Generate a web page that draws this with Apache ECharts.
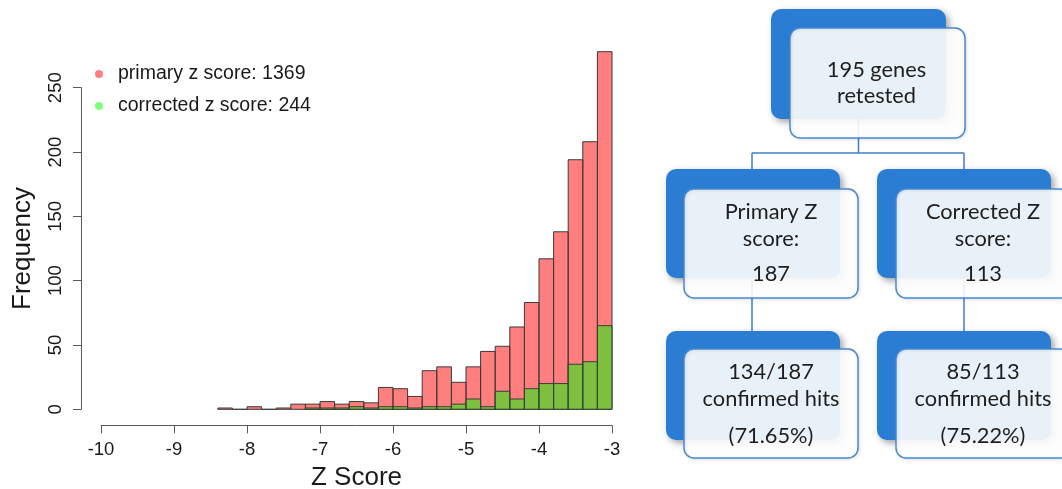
<!DOCTYPE html>
<html>
<head>
<meta charset="utf-8">
<script src="https://cdn.jsdelivr.net/npm/echarts@6/dist/echarts.min.js"></script>
<style>
  html, body { margin: 0; padding: 0; background: #ffffff; }
  #chart { width: 1062px; height: 489px; }
</style>
</head>
<body>
<div id="chart"></div>
<script>
// Histogram bins (width 0.2) of Z scores
const binEdges = [-8.4, -8.2, -8.0, -7.8, -7.6, -7.4, -7.2, -7.0, -6.8, -6.6, -6.4, -6.2, -6.0,
                  -5.8, -5.6, -5.4, -5.2, -5.0, -4.8, -4.6, -4.4, -4.2, -4.0, -3.8, -3.6, -3.4, -3.2, -3.0];
// Counts per bin, primary z score (total 1369)
const primaryCounts = [1, 0, 2, 0, 1, 4, 4, 6, 4, 6, 5, 17, 16, 10, 30, 33, 21, 33, 45, 49, 64, 83, 117, 138, 194, 208, 278];
// Counts per bin, corrected z score (total 244)
const correctedCounts = [0, 0, 0, 0, 0, 0, 1, 1, 1, 2, 1, 2, 2, 1, 2, 2, 4, 8, 2, 14, 8, 16, 20, 20, 35, 37, 65];

const seriesNames = ['primary z score: 1369', 'corrected z score: 244'];
const xTicks = { min: -10, max: -3, step: 1 };
const yTicks = { min: 0, max: 250, step: 50 };

// Flow diagram text
const topLines = ['195 genes', 'retested'];
const primaryLines = ['Primary Z', 'score:', '187'];
const correctedLines = ['Corrected Z', 'score:', '113'];
const primaryHitLines = ['134/187', 'confirmed hits', '(71.65%)'];
const correctedHitLines = ['85/113', 'confirmed hits', '(75.22%)'];

function binData(counts) {
  return counts.map((c, i) => [binEdges[i], binEdges[i + 1], c]);
}

function renderBin(params, api) {
  const x0 = api.value(0), x1 = api.value(1), v = api.value(2);
  const pTop = api.coord([x0, v]);
  const pBase = api.coord([x1, 0]);
  return {
    type: 'rect',
    shape: { x: pTop[0], y: pTop[1], width: pBase[0] - pTop[0], height: pBase[1] - pTop[1] },
    style: { fill: api.visual('color'), stroke: '#3a3a3a', lineWidth: 1 }
  };
}

// ---- flow diagram built from graphic elements ----
const DARK = '#2b7cd3';
const EDGE = '#4a8ad4';
const LINE = '#3f7fc6';
const BOX_FONT = 'Lato, "Noto Sans", sans-serif';

function block(dx, dy, lx, ly, w, h) {
  return [
    { type: 'rect', z: 2, shape: { x: dx, y: dy, width: w, height: h, r: 10 },
      style: { fill: DARK, shadowBlur: 7, shadowOffsetX: 3, shadowOffsetY: 3, shadowColor: 'rgba(0,0,0,0.38)' } },
    { type: 'rect', z: 3, shape: { x: lx, y: ly, width: w, height: h, r: 10 },
      style: { fill: 'rgba(255,255,255,0.9)', stroke: EDGE, lineWidth: 1.5,
               shadowBlur: 3, shadowOffsetX: 1, shadowOffsetY: 1, shadowColor: 'rgba(0,0,0,0.12)' } }
  ];
}

function textLines(cx, ys, lines) {
  return lines.map((t, i) => ({
    type: 'text', z: 4, x: cx, y: ys[i],
    style: { text: t, fill: '#1e1e1e', font: '21.8px ' + BOX_FONT, align: 'center', verticalAlign: 'middle' }
  }));
}

function seg(x1, y1, x2, y2) {
  return { type: 'line', z: 1, shape: { x1, y1, x2, y2 }, style: { stroke: LINE, lineWidth: 1.5 } };
}

const diagram = [].concat(
  seg(858.5, 119, 858.5, 153),
  seg(752, 153, 964, 153),
  seg(752, 153, 752, 170),
  seg(964, 153, 964, 170),
  seg(752, 280, 752, 332),
  seg(964, 280, 964, 332),
  block(771, 9, 790, 28, 175, 110),
  block(666, 169, 684, 189, 174, 109),
  block(877, 169, 896, 189, 174, 109),
  block(666, 331, 684, 349, 174, 109),
  block(877, 331, 896, 349, 174, 109),
  textLines(876.5, [70, 96], topLines),
  textLines(771, [212, 239, 274], primaryLines),
  textLines(983, [212, 239, 274], correctedLines),
  textLines(771, [372, 399, 436], primaryHitLines),
  textLines(983, [372, 399, 436], correctedHitLines)
);

const chart = echarts.init(document.getElementById('chart'), null, { renderer: 'canvas' });
const axisFont = 'Liberation Sans';

chart.setOption({
  backgroundColor: '#ffffff',
  animation: false,
  grid: { left: 101, top: 87.7, width: 511, height: 321.6, containLabel: false, outerBoundsMode: 'none' },
  legend: {
    orient: 'vertical', left: 90, top: 59,
    icon: 'circle', itemWidth: 28, itemHeight: 8, itemGap: 12,
    selectedMode: false,
    textStyle: { fontFamily: axisFont, fontSize: 19.5, color: '#1a1a1a' },
    data: seriesNames
  },
  xAxis: {
    type: 'value', min: xTicks.min, max: xTicks.max, interval: xTicks.step,
    offset: 16,
    name: 'Z Score', nameLocation: 'middle', nameGap: 40,
    nameTextStyle: { fontFamily: axisFont, fontSize: 26, color: '#1a1a1a' },
    axisLine: { show: true, onZero: false, lineStyle: { color: '#5a5a5a', width: 1 } },
    axisTick: { show: true, length: 8, lineStyle: { color: '#5a5a5a' } },
    axisLabel: { fontFamily: axisFont, fontSize: 18.5, color: '#1a1a1a', margin: 15 },
    splitLine: { show: false }
  },
  yAxis: {
    type: 'value', min: yTicks.min, max: yTicks.max, interval: yTicks.step,
    offset: 20,
    name: 'Frequency', nameLocation: 'middle', nameGap: 45, nameRotate: 90,
    nameTextStyle: { fontFamily: axisFont, fontSize: 26, color: '#1a1a1a' },
    axisLine: { show: true, onZero: false, lineStyle: { color: '#5a5a5a', width: 1 } },
    axisTick: { show: true, length: 8, lineStyle: { color: '#5a5a5a' } },
    axisLabel: { fontFamily: axisFont, fontSize: 18.5, color: '#1a1a1a', rotate: 90, margin: 16 },
    splitLine: { show: false }
  },
  series: [
    {
      name: seriesNames[0], type: 'custom', renderItem: renderBin,
      itemStyle: { color: 'rgba(255,0,0,0.5)' },
      encode: { x: [0, 1], y: 2 },
      data: binData(primaryCounts)
    },
    {
      name: seriesNames[1], type: 'custom', renderItem: renderBin,
      itemStyle: { color: 'rgba(0,255,0,0.5)' },
      encode: { x: [0, 1], y: 2 },
      data: binData(correctedCounts).filter(d => d[0] >= -7.2)
    }
  ],
  graphic: diagram
});
</script>
</body>
</html>
